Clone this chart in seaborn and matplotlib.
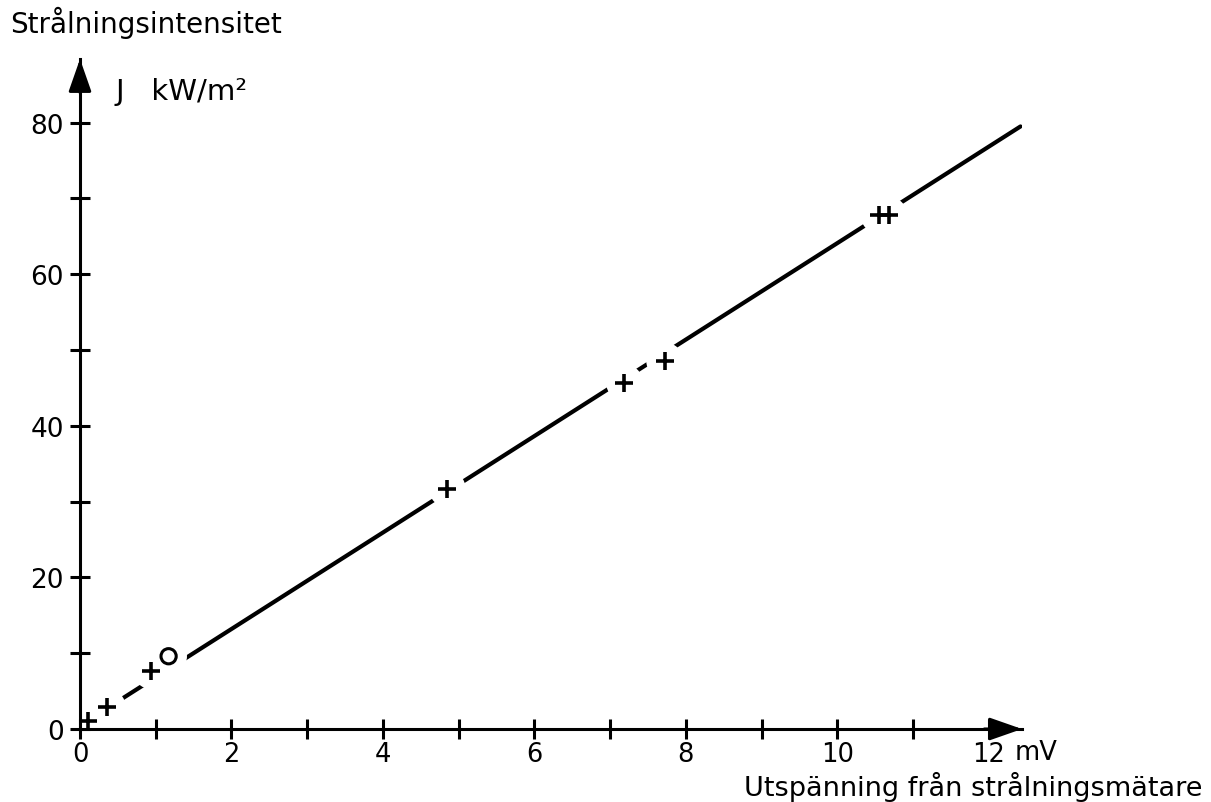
import pandas as pd
import matplotlib.pyplot as plt
import seaborn as sns

# measured points: output voltage (mV) vs radiation intensity J (kW/m2)
volt = [0.10, 0.36, 0.94, 4.85, 7.19, 7.72, 10.55, 10.68]
intensity = [1.1, 2.9, 7.7, 31.7, 45.7, 48.6, 67.8, 67.8]

# the one point drawn as a ring
ring_volt = [1.17]
ring_intensity = [9.6]

# hand drawn calibration line (end points)
line_volt = [0.10, 12.42]
line_intensity = [1.1, 79.5]

x_major = [0, 2, 4, 6, 8, 10, 12]
x_minor = [1, 3, 5, 7, 9, 11]
y_major = [0, 20, 40, 60, 80]
y_minor = [10, 30, 50, 70]

points = pd.DataFrame({'U': volt, 'J': intensity})
ring = pd.DataFrame({'U': ring_volt, 'J': ring_intensity})
fit = pd.DataFrame({'U': line_volt, 'J': line_intensity})

sns.set_theme(style='ticks')
plt.rcParams['font.family'] = ['DejaVu Sans']
plt.rcParams['text.color'] = 'black'

fig = plt.figure(figsize=(12.11, 8.03), dpi=100)
ax = fig.add_axes([80 / 1211, 73 / 803, 942 / 1211, 670 / 803])

# line first, then white blobs to break it around each point, then the marks
sns.lineplot(data=fit, x='U', y='J', color='black', lw=3, ax=ax, zorder=2)
blobs = pd.concat([points, ring])
sns.scatterplot(data=blobs, x='U', y='J', marker='o', s=700, color='white',
                edgecolor='none', ax=ax, zorder=2.2)
sns.scatterplot(data=points, x='U', y='J', marker='+', s=170, linewidth=2.6,
                color='black', ax=ax, zorder=5)
sns.scatterplot(data=ring, x='U', y='J', marker='o', s=120, facecolor='none',
                edgecolor='black', linewidth=2.2, ax=ax, zorder=5)

ax.set_xlim(0, 12.44)
ax.set_ylim(0, 88.4)

ax.set_xticks(x_major)
ax.set_xticks(x_minor, minor=True)
ax.set_yticks(y_major)
ax.set_yticks(y_minor, minor=True)
ax.set_xticklabels([str(v) for v in x_major])
ax.set_yticklabels([str(v) for v in y_major])
ax.tick_params(which='both', direction='inout', length=15, width=2.2,
               color='black', labelsize=19, labelcolor='black', pad=4)
ax.tick_params(axis='x', pad=1, labelsize=18.5)
ax.set_xlabel('')
ax.set_ylabel('')

sns.despine(ax=ax)
for side in ['left', 'bottom']:
    ax.spines[side].set_linewidth(2.2)
    ax.spines[side].set_color('black')

# arrow heads on the axes
arrow = dict(arrowstyle='-|>,head_length=1.0,head_width=0.35', color='black',
             lw=2.2, shrinkA=0, shrinkB=0, mutation_scale=20)
ax.annotate('', xy=(1, 0), xycoords='axes fraction', xytext=(0.96, 0),
            arrowprops=arrow, annotation_clip=False)
ax.annotate('', xy=(0, 1), xycoords='axes fraction', xytext=(0, 0.95),
            arrowprops=arrow, annotation_clip=False)

ax.annotate('mV', xy=(12, 0), xycoords='data', xytext=(19, -7),
            textcoords='offset points', ha='left', va='top', fontsize=18.5)

fig.text(10 / 1211, 1 - 33 / 803, 'Strålningsintensitet', fontsize=20,
         va='baseline', ha='left')
fig.text(115 / 1211, 1 - 100 / 803, 'J   kW/m²', fontsize=21,
         va='baseline', ha='left')
fig.text(1203 / 1211, 1 - 796 / 803, 'Utspänning från strålningsmätare',
         fontsize=19.5, va='baseline', ha='right')

fig.savefig('out.png', dpi=100, facecolor='white')
